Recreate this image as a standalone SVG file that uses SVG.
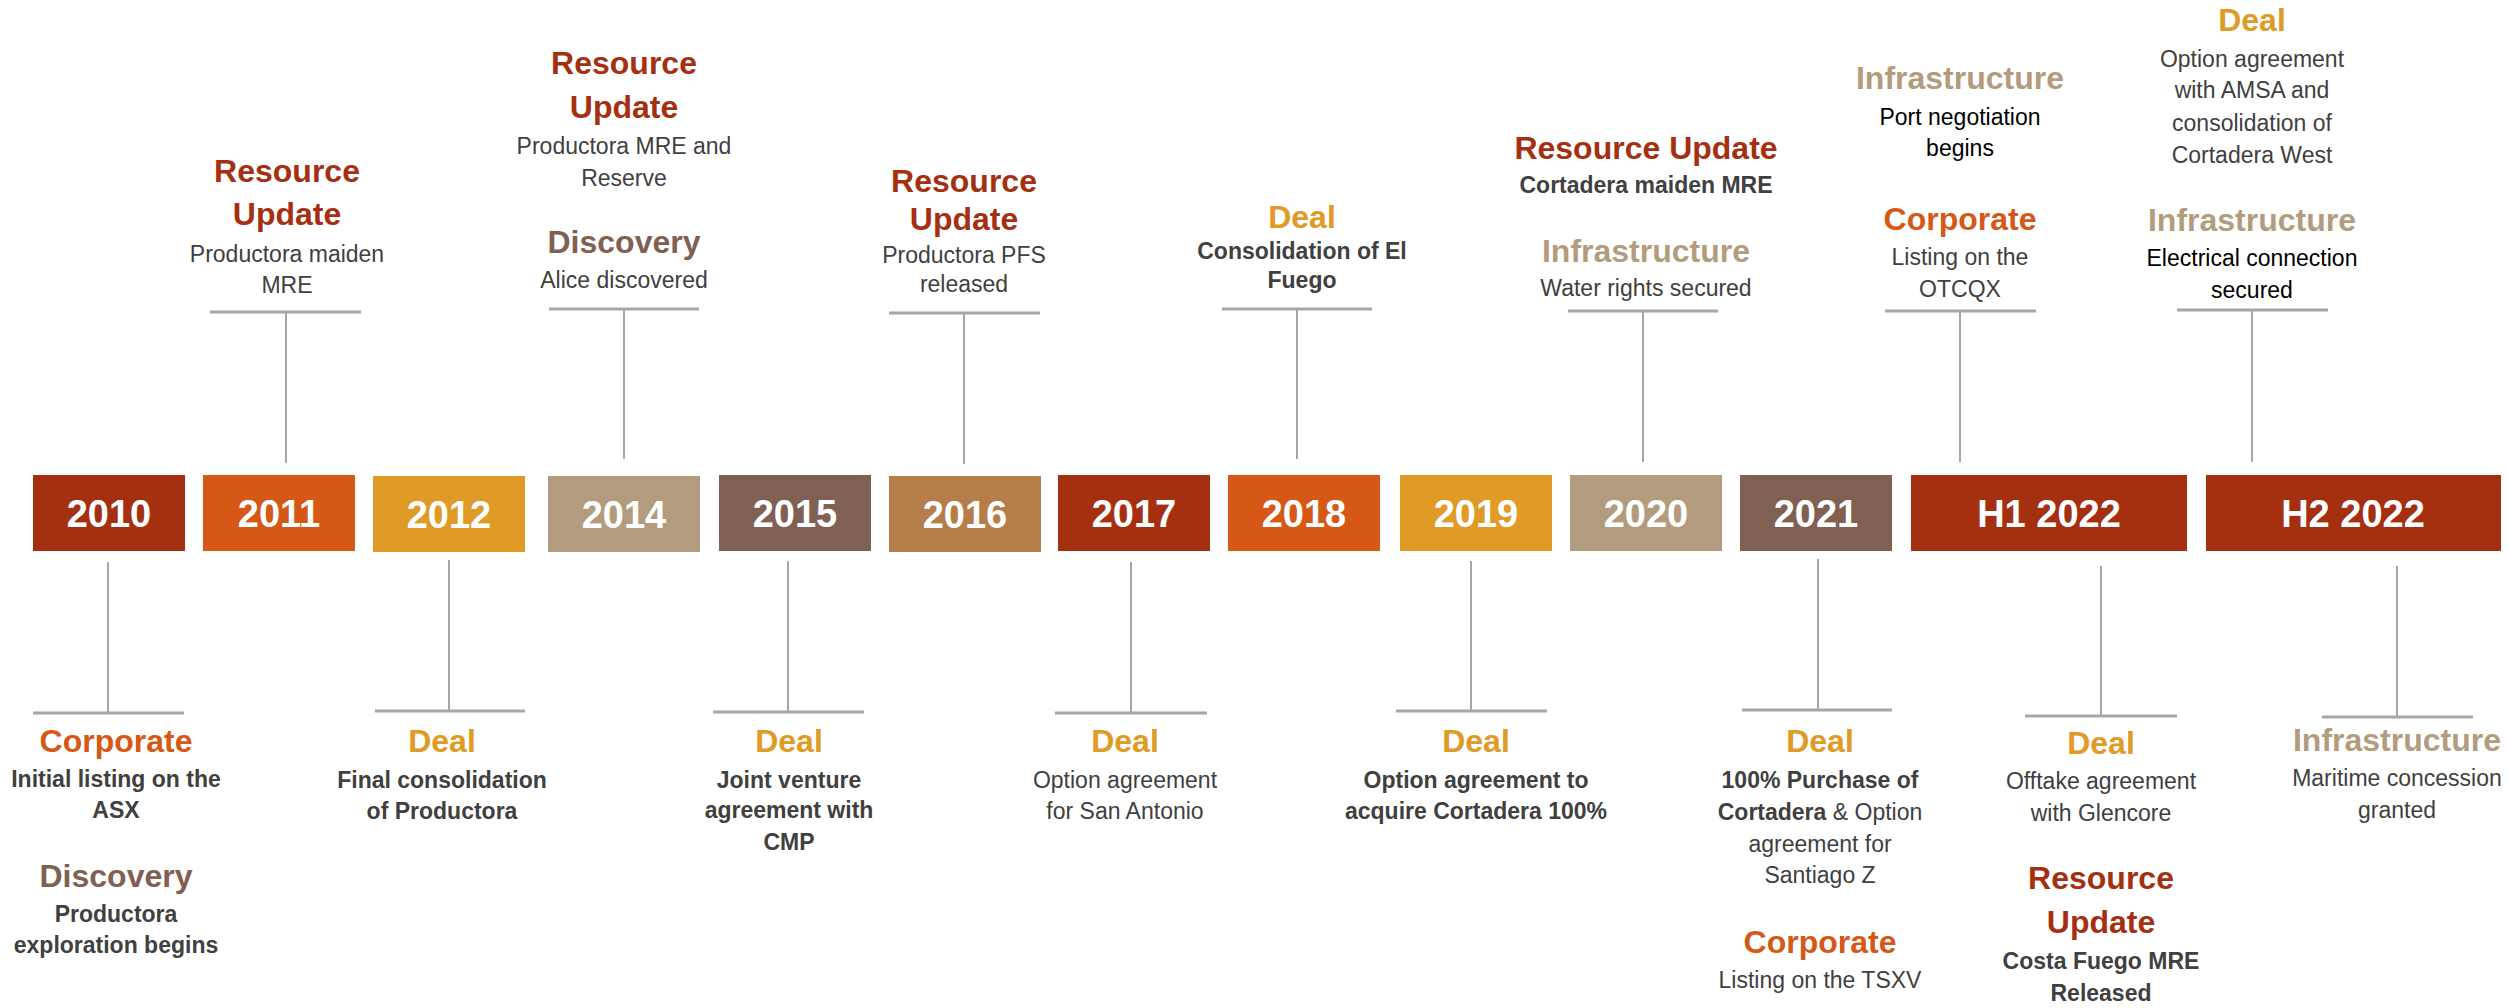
<svg xmlns="http://www.w3.org/2000/svg" width="2509" height="1008" viewBox="0 0 2509 1008">
<style>
  text { font-family: "Liberation Sans", Arial, sans-serif; text-anchor: middle; }
  .yr { font-size: 38px; font-weight: bold; fill: #ffffff; }
  .h { font-size: 32px; font-weight: bold; }
  .d { font-size: 23px; fill: #404040; }
  .b { font-size: 23px; fill: #404040; font-weight: bold; }
  .k { fill: #000000; }
  .c-red { fill: #A52F11; }
  .c-org { fill: #D55816; }
  .c-amb { fill: #E09A26; }
  .c-tan { fill: #B39C7D; }
  .c-brn { fill: #7F6052; }
  .c-lbr { fill: #B47D4A; }
  .v { stroke: #A6A6A6; stroke-width: 2; fill: none; }
  .bar { stroke: #A6A6A6; stroke-width: 3; fill: none; }
</style>
<rect width="2509" height="1008" fill="#ffffff"/>

<g id="connectors">
  <line class="bar" x1="210" y1="312" x2="361" y2="312"/><line class="v" x1="286" y1="312" x2="286" y2="463"/>
  <line class="bar" x1="549" y1="309" x2="699" y2="309"/><line class="v" x1="624" y1="309" x2="624" y2="459"/>
  <line class="bar" x1="889" y1="313" x2="1040" y2="313"/><line class="v" x1="964" y1="313" x2="964" y2="464"/>
  <line class="bar" x1="1222" y1="309" x2="1372" y2="309"/><line class="v" x1="1297" y1="309" x2="1297" y2="459"/>
  <line class="bar" x1="1568" y1="311" x2="1718" y2="311"/><line class="v" x1="1643" y1="311" x2="1643" y2="462"/>
  <line class="bar" x1="1885" y1="311" x2="2036" y2="311"/><line class="v" x1="1960" y1="311" x2="1960" y2="462"/>
  <line class="bar" x1="2177" y1="310" x2="2328" y2="310"/><line class="v" x1="2252" y1="310" x2="2252" y2="462"/>

  <line class="v" x1="108" y1="562" x2="108" y2="712"/><line class="bar" x1="33" y1="713" x2="184" y2="713"/>
  <line class="v" x1="449" y1="560" x2="449" y2="710"/><line class="bar" x1="375" y1="711" x2="525" y2="711"/>
  <line class="v" x1="788" y1="561" x2="788" y2="711"/><line class="bar" x1="713" y1="712" x2="864" y2="712"/>
  <line class="v" x1="1131" y1="562" x2="1131" y2="712"/><line class="bar" x1="1055" y1="713" x2="1207" y2="713"/>
  <line class="v" x1="1471" y1="561" x2="1471" y2="710"/><line class="bar" x1="1396" y1="711" x2="1547" y2="711"/>
  <line class="v" x1="1818" y1="559" x2="1818" y2="709"/><line class="bar" x1="1742" y1="710" x2="1892" y2="710"/>
  <line class="v" x1="2101" y1="566" x2="2101" y2="715"/><line class="bar" x1="2025" y1="716" x2="2177" y2="716"/>
  <line class="v" x1="2397" y1="566" x2="2397" y2="716"/><line class="bar" x1="2322" y1="717" x2="2473" y2="717"/>
</g>

<g id="y2010">
  <rect class="c-red" x="33" y="475" width="152" height="76"/>
  <text class="yr" x="109" y="527">2010</text>
  <text class="h c-org" x="116" y="752">Corporate</text>
  <text class="b" x="116" y="787">Initial listing on the</text>
  <text class="b" x="116" y="818">ASX</text>
  <text class="h c-brn" x="116" y="887">Discovery</text>
  <text class="b" x="116" y="922">Productora</text>
  <text class="b" x="116" y="953">exploration begins</text>
</g>

<g id="y2011">
  <rect class="c-org" x="203" y="475" width="152" height="76"/>
  <text class="yr" x="279" y="527">2011</text>
  <text class="h c-red" x="287" y="182">Resource</text>
  <text class="h c-red" x="287" y="225">Update</text>
  <text class="d" x="287" y="262">Productora maiden</text>
  <text class="d" x="287" y="293">MRE</text>
</g>

<g id="y2012">
  <rect class="c-amb" x="373" y="476" width="152" height="76"/>
  <text class="yr" x="449" y="528">2012</text>
  <text class="h c-amb" x="442" y="752">Deal</text>
  <text class="b" x="442" y="788">Final consolidation</text>
  <text class="b" x="442" y="819">of Productora</text>
</g>

<g id="y2014">
  <rect class="c-tan" x="548" y="476" width="152" height="76"/>
  <text class="yr" x="624" y="528">2014</text>
  <text class="h c-red" x="624" y="74">Resource</text>
  <text class="h c-red" x="624" y="118">Update</text>
  <text class="d" x="624" y="154">Productora MRE and</text>
  <text class="d" x="624" y="186">Reserve</text>
  <text class="h c-brn" x="624" y="253">Discovery</text>
  <text class="d" x="624" y="288">Alice discovered</text>
</g>

<g id="y2015">
  <rect class="c-brn" x="719" y="475" width="152" height="76"/>
  <text class="yr" x="795" y="527">2015</text>
  <text class="h c-amb" x="789" y="752">Deal</text>
  <text class="b" x="789" y="788">Joint venture</text>
  <text class="b" x="789" y="818">agreement with</text>
  <text class="b" x="789" y="850">CMP</text>
</g>

<g id="y2016">
  <rect class="c-lbr" x="889" y="476" width="152" height="76"/>
  <text class="yr" x="965" y="528">2016</text>
  <text class="h c-red" x="964" y="192">Resource</text>
  <text class="h c-red" x="964" y="230">Update</text>
  <text class="d" x="964" y="263">Productora PFS</text>
  <text class="d" x="964" y="292">released</text>
</g>

<g id="y2017">
  <rect class="c-red" x="1058" y="475" width="152" height="76"/>
  <text class="yr" x="1134" y="527">2017</text>
  <text class="h c-amb" x="1125" y="752">Deal</text>
  <text class="d" x="1125" y="788">Option agreement</text>
  <text class="d" x="1125" y="819">for San Antonio</text>
</g>

<g id="y2018">
  <rect class="c-org" x="1228" y="475" width="152" height="76"/>
  <text class="yr" x="1304" y="527">2018</text>
  <text class="h c-amb" x="1302" y="228">Deal</text>
  <text class="b" x="1302" y="259">Consolidation of El</text>
  <text class="b" x="1302" y="288">Fuego</text>
</g>

<g id="y2019">
  <rect class="c-amb" x="1400" y="475" width="152" height="76"/>
  <text class="yr" x="1476" y="527">2019</text>
  <text class="h c-amb" x="1476" y="752">Deal</text>
  <text class="b" x="1476" y="788">Option agreement to</text>
  <text class="b" x="1476" y="819">acquire Cortadera 100%</text>
</g>

<g id="y2020">
  <rect class="c-tan" x="1570" y="475" width="152" height="76"/>
  <text class="yr" x="1646" y="527">2020</text>
  <text class="h c-red" x="1646" y="159">Resource Update</text>
  <text class="b" x="1646" y="193">Cortadera maiden MRE</text>
  <text class="h c-tan" x="1646" y="262">Infrastructure</text>
  <text class="d" x="1646" y="296">Water rights secured</text>
</g>

<g id="y2021">
  <rect class="c-brn" x="1740" y="475" width="152" height="76"/>
  <text class="yr" x="1816" y="527">2021</text>
  <text class="h c-amb" x="1820" y="752">Deal</text>
  <text class="b" x="1820" y="788">100% Purchase of</text>
  <text class="d" x="1820" y="820"><tspan font-weight="bold">Cortadera</tspan> &amp; Option</text>
  <text class="d" x="1820" y="852">agreement for</text>
  <text class="d" x="1820" y="883">Santiago Z</text>
  <text class="h c-org" x="1820" y="953">Corporate</text>
  <text class="d" x="1820" y="988">Listing on the TSXV</text>
</g>

<g id="h1-2022">
  <rect class="c-red" x="1911" y="475" width="276" height="76"/>
  <text class="yr" x="2049" y="527">H1 2022</text>
  <text class="h c-tan" x="1960" y="89">Infrastructure</text>
  <text class="d k" x="1960" y="125">Port negotiation</text>
  <text class="d k" x="1960" y="156">begins</text>
  <text class="h c-org" x="1960" y="230">Corporate</text>
  <text class="d" x="1960" y="265">Listing on the</text>
  <text class="d" x="1960" y="297">OTCQX</text>
  <text class="h c-amb" x="2101" y="754">Deal</text>
  <text class="d" x="2101" y="789">Offtake agreement</text>
  <text class="d" x="2101" y="821">with Glencore</text>
  <text class="h c-red" x="2101" y="889">Resource</text>
  <text class="h c-red" x="2101" y="933">Update</text>
  <text class="b" x="2101" y="969">Costa Fuego MRE</text>
  <text class="b" x="2101" y="1001">Released</text>
</g>

<g id="h2-2022">
  <rect class="c-red" x="2206" y="475" width="295" height="76"/>
  <text class="yr" x="2353" y="527">H2 2022</text>
  <text class="h c-amb" x="2252" y="31">Deal</text>
  <text class="d" x="2252" y="67">Option agreement</text>
  <text class="d" x="2252" y="98">with AMSA and</text>
  <text class="d" x="2252" y="131">consolidation of</text>
  <text class="d" x="2252" y="163">Cortadera West</text>
  <text class="h c-tan" x="2252" y="231">Infrastructure</text>
  <text class="d k" x="2252" y="266">Electrical connection</text>
  <text class="d k" x="2252" y="298">secured</text>
  <text class="h c-tan" x="2397" y="751">Infrastructure</text>
  <text class="d" x="2397" y="786">Maritime concession</text>
  <text class="d" x="2397" y="818">granted</text>
</g>
</svg>
